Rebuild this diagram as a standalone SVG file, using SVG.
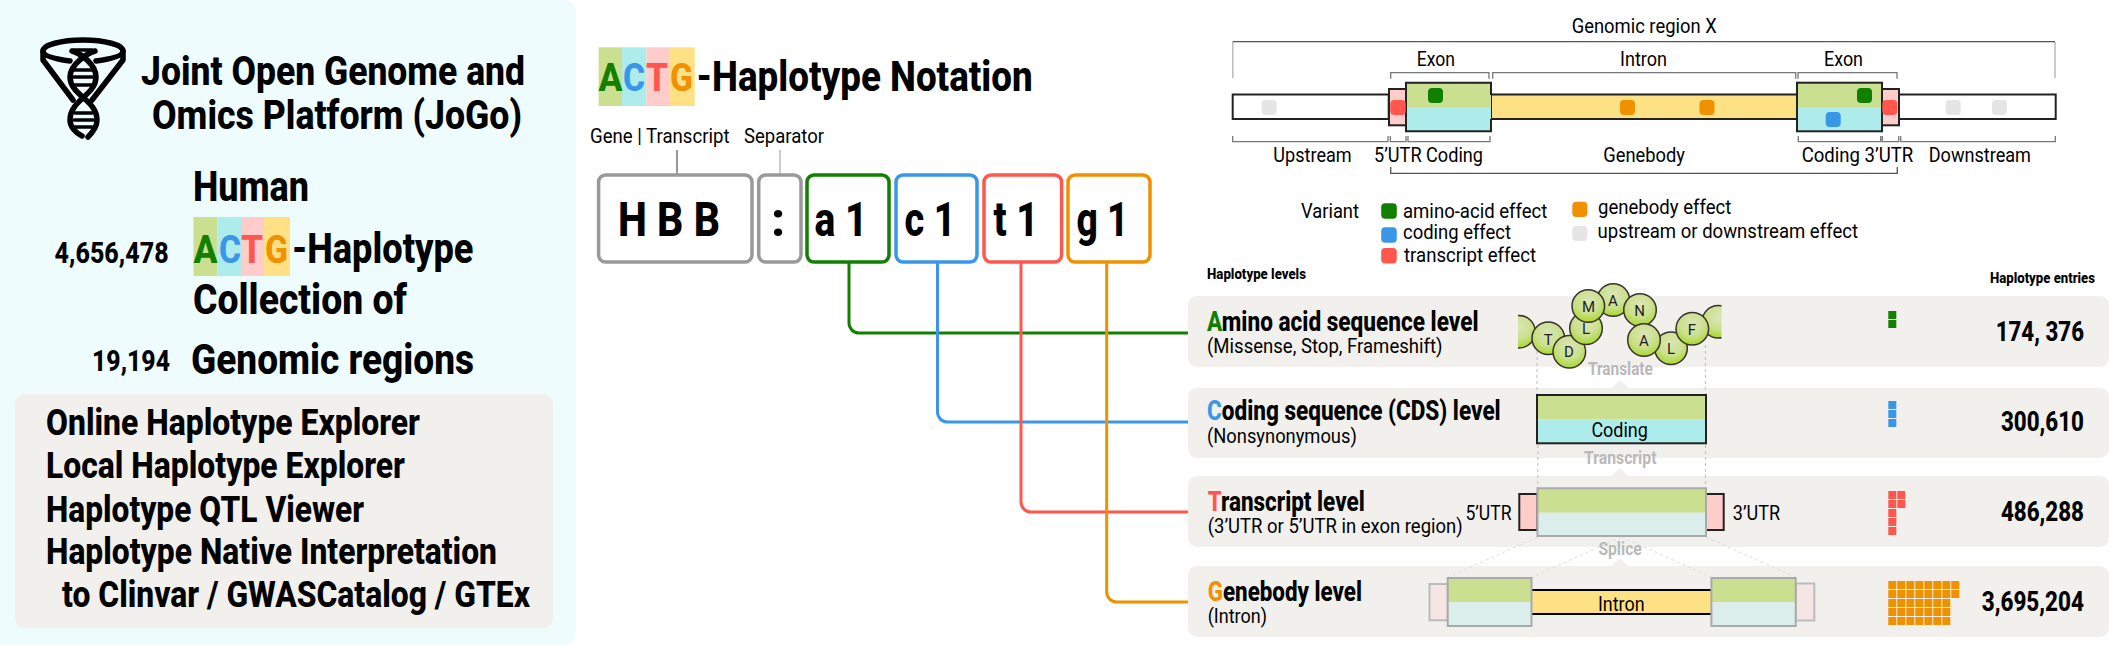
<svg xmlns="http://www.w3.org/2000/svg" width="2109" height="646" viewBox="0 0 2109 646">
<style>
text{font-family:Roboto,"Liberation Sans",sans-serif;fill:#000;font-weight:400}
.b{font-weight:800}
.t38{font-size:40px}.t40{font-size:42px}.t39{font-size:39px}.t34{font-size:37px}.t29{font-size:29px}
.t20{font-size:20.500px}.t21{font-size:21px}.t19{font-size:19.500px}.t27{font-size:27px}.t14{font-size:14.500px}.t46{font-size:49px}
.g18{font-size:19px;font-weight:700;fill:#b9b9b9}
.pl{font-size:15px;fill:#222;text-anchor:middle}
.A{fill:#118000}.C{fill:#3a97e8}.T{fill:#ff574d}.G{fill:#ef9100}.W{fill:#e5e5e5}
.bA{fill:#cbdf90}.bC{fill:#aeecec}.bT{fill:#ffcccc}.bG{fill:#fee185}.bF{fill:#dceeeb}
.row{fill:#f1f0ec}
.ln{fill:none;stroke-width:3}
.tok{fill:#fff;stroke-width:3.5}
.br{fill:none;stroke:#777;stroke-width:1.3}
.dash{fill:none;stroke:#bdbdbd;stroke-width:1;stroke-dasharray:3 3}
.dash2{fill:none;stroke:#dcdcdc;stroke-width:1;stroke-dasharray:3 3}
.k{fill:none;stroke:#222;stroke-width:2}
.f{fill:none;stroke:#aaa;stroke-width:2}
.aa{fill:url(#aag);stroke:#3a3030;stroke-width:1.5}
.logo{fill:none;stroke:#000;stroke-width:5.500;stroke-linecap:round;stroke-linejoin:round}
</style>
<defs>
<radialGradient id="aag" cx="0.5" cy="0.35" r="0.68"><stop offset="0" stop-color="#dbe6b8"/><stop offset="0.55" stop-color="#cbe08e"/><stop offset="1" stop-color="#a3d820"/></radialGradient>
<clipPath id="pep"><rect x="1518" y="270" width="203.500" height="110"/></clipPath>
</defs>

<g id="panel">
<rect x="-12" y="0" width="588" height="645" rx="12" fill="#effcfe"/>
<g id="logo" class="logo">
<path d="M70,61C55,59 43,56 43,51C43,45 61,40 83,40C105,40 123,45 123,51C123,56 111,59 96,61"/>
<path d="M43,51V60L73,100M123,51V60L92,100"/>
<path d="M72,51C80,53 96,64 96,77C96,95 70,100 70,120C70,127 76,133 82,136"/>
<path d="M95,51C88,53 70,64 70,77C70,95 97,100 97,120C97,127 92,133 88,137"/>
<path d="M74,50H92M74,70H92M73,77H93M74,85H92M75,113H92M74,120H93M75,127H92" stroke-width="3.5"/>
</g>
<text class="b t38" x="141" y="85" textLength="384" lengthAdjust="spacingAndGlyphs">Joint Open Genome and</text>
<text class="b t38" x="152" y="129" textLength="370" lengthAdjust="spacingAndGlyphs">Omics Platform (JoGo)</text>
<text class="b t40" x="193" y="201" textLength="116" lengthAdjust="spacingAndGlyphs">Human</text>
<rect class="bA" x="193.500" y="217" width="24" height="59"/><rect class="bC" x="217.500" y="217" width="23.500" height="59"/><rect class="bT" x="241" y="217" width="23" height="59"/><rect class="bG" x="264" y="217" width="26" height="59"/>
<text class="b t39 A" x="193.500" y="263" textLength="24" lengthAdjust="spacingAndGlyphs">A</text>
<text class="b t39 C" x="219" y="263" textLength="22" lengthAdjust="spacingAndGlyphs">C</text>
<text class="b t39 T" x="241" y="263" textLength="22" lengthAdjust="spacingAndGlyphs">T</text>
<text class="b t39 G" x="265" y="263" textLength="23" lengthAdjust="spacingAndGlyphs">G</text>
<text class="b t40" x="292" y="263" textLength="181.500" lengthAdjust="spacingAndGlyphs">-Haplotype</text>
<text class="b t40" x="193" y="314" textLength="214" lengthAdjust="spacingAndGlyphs">Collection of</text>
<text class="b t40" x="191" y="374" textLength="283" lengthAdjust="spacingAndGlyphs">Genomic regions</text>
<text class="b t29" x="54.600" y="263" textLength="114" lengthAdjust="spacingAndGlyphs">4,656,478</text>
<text class="b t29" x="92" y="371" textLength="78" lengthAdjust="spacingAndGlyphs">19,194</text>
<rect class="row" x="15" y="394" width="538" height="234" rx="9"/>
<text class="b t34" x="46" y="435" textLength="374" lengthAdjust="spacingAndGlyphs">Online Haplotype Explorer</text>
<text class="b t34" x="46" y="478" textLength="359" lengthAdjust="spacingAndGlyphs">Local Haplotype Explorer</text>
<text class="b t34" x="46" y="522" textLength="318" lengthAdjust="spacingAndGlyphs">Haplotype QTL Viewer</text>
<text class="b t34" x="46" y="564" textLength="451" lengthAdjust="spacingAndGlyphs">Haplotype Native Interpretation</text>
<text class="b t34" x="62" y="607" textLength="468" lengthAdjust="spacingAndGlyphs">to Clinvar / GWASCatalog / GTEx</text>
</g>

<g id="notation-title">
<rect class="bA" x="598.600" y="47.300" width="23.400" height="58.700"/><rect class="bC" x="622" y="47.300" width="24.400" height="58.700"/><rect class="bT" x="646.400" y="47.300" width="22.600" height="58.700"/><rect class="bG" x="669" y="47.300" width="25.700" height="58.700"/>
<text class="b t39 A" x="598.600" y="90.700" textLength="24" lengthAdjust="spacingAndGlyphs">A</text>
<text class="b t39 C" x="623" y="90.700" textLength="22" lengthAdjust="spacingAndGlyphs">C</text>
<text class="b t39 T" x="646" y="90.700" textLength="22" lengthAdjust="spacingAndGlyphs">T</text>
<text class="b t39 G" x="670" y="90.700" textLength="23" lengthAdjust="spacingAndGlyphs">G</text>
<text class="b t40" x="696.600" y="90.700" textLength="336" lengthAdjust="spacingAndGlyphs">-Haplotype Notation</text>
<text class="t20" x="590" y="143" textLength="139.500" lengthAdjust="spacingAndGlyphs">Gene | Transcript</text>
<text class="t20" x="744" y="143" textLength="80" lengthAdjust="spacingAndGlyphs">Separator</text>
</g>

<g id="connectors">
<path class="ln" stroke="#777" style="stroke-width:1.500" d="M677,150V175"/>
<path class="ln" stroke="#bbb" style="stroke-width:1.500" d="M780,150V175"/>
<path class="ln" stroke="#118000" d="M849,262V323a10,10 0 0 0 10,10H1188"/>
<path class="ln" stroke="#3a97e8" d="M937.500,262V412a10,10 0 0 0 10,10H1188"/>
<path class="ln" stroke="#ff574d" d="M1021,262V502a10,10 0 0 0 10,10H1188"/>
<path class="ln" stroke="#ef9100" d="M1106.700,262V592a10,10 0 0 0 10,10H1188"/>
</g>

<g id="token-gene"><rect class="tok" stroke="#999" x="598.600" y="175" width="153.400" height="87" rx="7"/><text class="b t46" x="618" y="235.700" textLength="102" lengthAdjust="spacingAndGlyphs">H B B</text></g>
<g id="token-sep"><rect class="tok" stroke="#999" x="758.700" y="175" width="42.300" height="87" rx="7"/><text class="b t46" x="771" y="235.700">:</text></g>
<g id="token-a"><rect class="tok" stroke="#118000" x="807" y="175" width="82" height="87" rx="7"/><text class="b t46" x="814.500" y="235.700" textLength="53" lengthAdjust="spacingAndGlyphs">a 1</text></g>
<g id="token-c"><rect class="tok" stroke="#3a97e8" x="896" y="175" width="81" height="87" rx="7"/><text class="b t46" x="904.500" y="235.700" textLength="51" lengthAdjust="spacingAndGlyphs">c 1</text></g>
<g id="token-t"><rect class="tok" stroke="#ff574d" x="984" y="175" width="77.600" height="87" rx="7"/><text class="b t46" x="993.500" y="235.700" textLength="45" lengthAdjust="spacingAndGlyphs">t 1</text></g>
<g id="token-g"><rect class="tok" stroke="#ef9100" x="1068" y="175" width="82" height="87" rx="7"/><text class="b t46" x="1076.500" y="235.700" textLength="52" lengthAdjust="spacingAndGlyphs">g 1</text></g>

<g id="genomic-region">
<text class="t20" x="1571.700" y="32.700" textLength="145" lengthAdjust="spacingAndGlyphs">Genomic region X</text>
<path fill="none" stroke="#bbb" stroke-width="1.500" d="M1232.700,78V42M2055,78V42"/>
<path fill="none" stroke="#555" stroke-width="1.300" d="M1232.700,41.700H2055"/>
<path class="br" d="M1390.700,78.700V72.700H1489V78.700M1492.700,78.700V72.700H1795.700V78.700M1798,78.700V72.700H1897V78.700"/>
<text class="t20" x="1416.700" y="65.700" textLength="38.300" lengthAdjust="spacingAndGlyphs">Exon</text>
<text class="t20" x="1620" y="65.700" textLength="47" lengthAdjust="spacingAndGlyphs">Intron</text>
<text class="t20" x="1824" y="65.700" textLength="39" lengthAdjust="spacingAndGlyphs">Exon</text>
<rect x="1232.700" y="94.500" width="156" height="24.500" fill="#fff"/><rect class="k" x="1232.700" y="94.500" width="156" height="24.500"/>
<rect class="bT" x="1389" y="89" width="18" height="36.300"/><rect class="k" x="1389" y="89" width="18" height="36.300"/>
<rect class="bG" x="1491" y="94.500" width="306" height="24.500"/><rect class="k" x="1491" y="94.500" width="306" height="24.500"/>
<rect class="bA" x="1406" y="82.700" width="85" height="24.300"/><rect class="bC" x="1406" y="107" width="85" height="24.300"/><path d="M1491,95V82.700H1406V131.300H1491V119" fill="none" stroke="#222" stroke-width="2"/>
<rect x="1899" y="94.500" width="156.700" height="24.500" fill="#fff"/><rect class="k" x="1899" y="94.500" width="156.700" height="24.500"/>
<rect class="bT" x="1882" y="89" width="17" height="36.300"/><rect class="k" x="1882" y="89" width="17" height="36.300"/>
<rect class="bA" x="1797" y="82.700" width="85" height="24.300"/><rect class="bC" x="1797" y="107" width="85" height="24.300"/><rect class="k" x="1797" y="82.700" width="85" height="48.600"/>
<rect class="W" x="1261.700" y="100" width="15" height="15" rx="4"/>
<rect class="T" x="1390.300" y="100" width="15.400" height="15" rx="4"/>
<rect class="A" x="1428" y="88" width="15" height="15" rx="4"/>
<rect class="G" x="1620" y="100" width="15" height="15" rx="4"/>
<rect class="G" x="1699.500" y="100" width="15" height="15" rx="4"/>
<rect class="A" x="1857" y="88" width="15" height="15" rx="4"/>
<rect class="C" x="1825.700" y="112" width="15" height="15" rx="4"/>
<rect class="T" x="1882.300" y="100" width="15" height="15" rx="4"/>
<rect class="W" x="1945.700" y="100" width="15" height="15" rx="4"/>
<rect class="W" x="1992" y="100" width="15" height="15" rx="4"/>
<path class="br" d="M1232.700,136V141.700H1388V136M1390.300,136V141.700H1406V136M1408,136V141.700H1490V136M1798.300,136V141.700H1880.700V136M1882.300,136V141.700H1898.700V136M1900.700,136V141.700H2055.300V136"/>
<path class="br" style="stroke:#555" d="M1390.700,167V173.300H1897.300V167"/>
<text class="t20" x="1273.300" y="161.700" textLength="78.400" lengthAdjust="spacingAndGlyphs">Upstream</text>
<text class="t20" x="1374" y="161.700" textLength="109" lengthAdjust="spacingAndGlyphs">5’UTR Coding</text>
<text class="t20" x="1603.300" y="161.700" textLength="81.700" lengthAdjust="spacingAndGlyphs">Genebody</text>
<text class="t20" x="1801.700" y="161.700" textLength="111.600" lengthAdjust="spacingAndGlyphs">Coding 3’UTR</text>
<text class="t20" x="1928.700" y="161.700" textLength="102.300" lengthAdjust="spacingAndGlyphs">Downstream</text>
</g>

<g id="legend">
<text class="t20" x="1301" y="217.700" textLength="58" lengthAdjust="spacingAndGlyphs">Variant</text>
<rect class="A" x="1381.200" y="203.300" width="15.600" height="15.400" rx="4"/>
<rect class="C" x="1381.200" y="227.300" width="15.600" height="15.400" rx="4"/>
<rect class="T" x="1381.200" y="248" width="15.600" height="15.400" rx="4"/>
<rect class="G" x="1572.300" y="201.700" width="15.100" height="15.400" rx="4"/>
<rect class="W" x="1572.300" y="225.700" width="15.100" height="15.400" rx="4"/>
<text class="t20" x="1403" y="217.700" textLength="144.400" lengthAdjust="spacingAndGlyphs">amino-acid effect</text>
<text class="t20" x="1403" y="239.300" textLength="108" lengthAdjust="spacingAndGlyphs">coding effect</text>
<text class="t20" x="1404" y="262" textLength="132" lengthAdjust="spacingAndGlyphs">transcript effect</text>
<text class="t20" x="1598" y="213.500" textLength="133.400" lengthAdjust="spacingAndGlyphs">genebody effect</text>
<text class="t20" x="1597.500" y="238" textLength="260.500" lengthAdjust="spacingAndGlyphs">upstream or downstream effect</text>
</g>

<g id="headers">
<text class="b t14" x="1207" y="279" textLength="99" lengthAdjust="spacingAndGlyphs">Haplotype levels</text>
<text class="b t14" x="1990" y="283" textLength="105" lengthAdjust="spacingAndGlyphs">Haplotype entries</text>
</g>

<g id="level-aa">
<rect class="row" x="1188" y="296" width="921" height="71" rx="9"/>
<text class="b t27" x="1207" y="330.700" textLength="271.600" lengthAdjust="spacingAndGlyphs"><tspan class="A">A</tspan>mino acid sequence level</text>
<text class="t21" x="1207" y="353" textLength="235.500" lengthAdjust="spacingAndGlyphs">(Missense, Stop, Frameshift)</text>
<text class="b t27" x="1995.700" y="341" textLength="88.300" lengthAdjust="spacingAndGlyphs">174, 376</text>
<rect class="A" x="1888.300" y="311" width="8" height="8"/><rect class="A" x="1888.300" y="320" width="8" height="8"/>
</g>
<g id="level-cds">
<rect class="row" x="1188" y="388" width="921" height="70" rx="9"/>
<path class="row" d="M1620.400,380L1611.400,388H1628.600Z"/>
<text class="b t27" x="1207" y="420" textLength="293.700" lengthAdjust="spacingAndGlyphs"><tspan class="C">C</tspan>oding sequence (CDS) level</text>
<text class="t21" x="1207" y="443" textLength="149.800" lengthAdjust="spacingAndGlyphs">(Nonsynonymous)</text>
<text class="b t27" x="2001" y="431" textLength="83" lengthAdjust="spacingAndGlyphs">300,610</text>
<rect class="C" x="1888.300" y="401" width="8" height="8"/><rect class="C" x="1888.300" y="410" width="8" height="8"/><rect class="C" x="1888.300" y="419" width="8" height="8"/>
</g>
<g id="level-transcript">
<rect class="row" x="1188" y="476" width="921" height="71" rx="9"/>
<path class="row" d="M1619.700,468L1611.500,476H1628Z"/>
<text class="b t27" x="1207.700" y="511" textLength="157" lengthAdjust="spacingAndGlyphs"><tspan class="T">T</tspan>ranscript level</text>
<text class="t19" x="1207.700" y="533" textLength="255" lengthAdjust="spacingAndGlyphs">(3’UTR or 5’UTR in exon region)</text>
<text class="b t27" x="2001" y="520.700" textLength="83" lengthAdjust="spacingAndGlyphs">486,288</text>
<rect class="T" x="1888.300" y="491" width="8" height="8"/><rect class="T" x="1897.300" y="491" width="8" height="8"/><rect class="T" x="1888.300" y="500" width="8" height="8"/><rect class="T" x="1897.300" y="500" width="8" height="8"/><rect class="T" x="1888.300" y="509" width="8" height="8"/><rect class="T" x="1888.300" y="518" width="8" height="8"/><rect class="T" x="1888.300" y="527" width="8" height="8"/>
</g>
<g id="level-genebody">
<rect class="row" x="1188" y="566" width="921" height="71" rx="9"/>
<path class="row" d="M1619.700,558L1611.500,566H1628Z"/>
<text class="b t27" x="1207.700" y="600.500" textLength="154.300" lengthAdjust="spacingAndGlyphs"><tspan class="G">G</tspan>enebody level</text>
<text class="t21" x="1207.700" y="623" textLength="59.300" lengthAdjust="spacingAndGlyphs">(Intron)</text>
<text class="b t27" x="1981.700" y="610.700" textLength="102.300" lengthAdjust="spacingAndGlyphs">3,695,204</text>
<g class="G">
<rect x="1888.300" y="581" width="8" height="8"/><rect x="1897.300" y="581" width="8" height="8"/><rect x="1906.300" y="581" width="8" height="8"/><rect x="1915.300" y="581" width="8" height="8"/><rect x="1924.300" y="581" width="8" height="8"/><rect x="1933.300" y="581" width="8" height="8"/><rect x="1942.300" y="581" width="8" height="8"/><rect x="1951.300" y="581" width="8" height="8"/>
<rect x="1888.300" y="590" width="8" height="8"/><rect x="1897.300" y="590" width="8" height="8"/><rect x="1906.300" y="590" width="8" height="8"/><rect x="1915.300" y="590" width="8" height="8"/><rect x="1924.300" y="590" width="8" height="8"/><rect x="1933.300" y="590" width="8" height="8"/><rect x="1942.300" y="590" width="8" height="8"/><rect x="1951.300" y="590" width="8" height="8"/>
<rect x="1888.300" y="599" width="8" height="8"/><rect x="1897.300" y="599" width="8" height="8"/><rect x="1906.300" y="599" width="8" height="8"/><rect x="1915.300" y="599" width="8" height="8"/><rect x="1924.300" y="599" width="8" height="8"/><rect x="1933.300" y="599" width="8" height="8"/><rect x="1942.300" y="599" width="8" height="8"/>
<rect x="1888.300" y="608" width="8" height="8"/><rect x="1897.300" y="608" width="8" height="8"/><rect x="1906.300" y="608" width="8" height="8"/><rect x="1915.300" y="608" width="8" height="8"/><rect x="1924.300" y="608" width="8" height="8"/><rect x="1933.300" y="608" width="8" height="8"/><rect x="1942.300" y="608" width="8" height="8"/>
<rect x="1888.300" y="617" width="8" height="8"/><rect x="1897.300" y="617" width="8" height="8"/><rect x="1906.300" y="617" width="8" height="8"/><rect x="1915.300" y="617" width="8" height="8"/><rect x="1924.300" y="617" width="8" height="8"/><rect x="1933.300" y="617" width="8" height="8"/><rect x="1942.300" y="617" width="8" height="8"/>
</g>
</g>

<g id="guides">
<path class="dash" d="M1537,345V395M1705.400,345V395M1537.800,445V488M1705.500,445V488"/>
<path class="dash2" d="M1537.800,537L1448,577.300M1621,537L1532,577.300M1622,537L1711,577.300M1706,537L1795.700,577.300"/>
<text class="g18" x="1587.900" y="375" textLength="65" lengthAdjust="spacingAndGlyphs">Translate</text>
<text class="g18" x="1584" y="464.300" textLength="72.500" lengthAdjust="spacingAndGlyphs">Transcript</text>
<text class="g18" x="1598.400" y="555" textLength="43.400" lengthAdjust="spacingAndGlyphs">Splice</text>
</g>

<g id="peptide">
<g clip-path="url(#pep)">
<circle class="aa" cx="1519" cy="331.700" r="16.300"/>
<circle class="aa" cx="1718.300" cy="321.700" r="16.300"/>
<circle class="aa" cx="1548.300" cy="338.300" r="16.300"/>
<circle class="aa" cx="1569.300" cy="351.700" r="16.300"/>
<circle class="aa" cx="1586" cy="328.300" r="16.300"/>
<circle class="aa" cx="1613.300" cy="300" r="16.300"/>
<circle class="aa" cx="1588.300" cy="306" r="16.300"/>
<circle class="aa" cx="1640" cy="310" r="16.300"/>
<circle class="aa" cx="1671" cy="348.300" r="16.300"/>
<circle class="aa" cx="1644" cy="340" r="16.300"/>
<circle class="aa" cx="1692.300" cy="328.700" r="16.300"/>
</g>
<text class="pl" x="1548.300" y="345">T</text><text class="pl" x="1569" y="357">D</text><text class="pl" x="1586" y="334">L</text><text class="pl" x="1588.500" y="312">M</text><text class="pl" x="1613" y="306">A</text><text class="pl" x="1639.500" y="316">N</text><text class="pl" x="1644" y="346">A</text><text class="pl" x="1671" y="354">L</text><text class="pl" x="1692" y="335">F</text>
</g>

<g id="cds-block">
<rect class="bA" x="1537" y="395" width="169" height="24.300"/><rect class="bC" x="1537" y="419.300" width="169" height="24"/><rect class="k" x="1537" y="395" width="169" height="48.300"/>
<text class="t21" x="1591.400" y="437.300" textLength="56.500" lengthAdjust="spacingAndGlyphs">Coding</text>
</g>
<g id="transcript-block">
<rect class="bT" x="1519.300" y="494" width="18.200" height="36"/><rect class="k" x="1519.300" y="494" width="18.200" height="36"/>
<rect class="bT" x="1706" y="494" width="17.700" height="36"/><rect class="k" x="1706" y="494" width="17.700" height="36"/>
<rect class="bA" x="1537.500" y="488.300" width="168.500" height="24.400"/><rect class="bF" x="1537.500" y="512.700" width="168.500" height="23.300"/><rect class="f" x="1537.500" y="488.300" width="168.500" height="47.700"/>
<text class="t21" x="1465.500" y="520.300" textLength="46" lengthAdjust="spacingAndGlyphs">5’UTR</text>
<text class="t21" x="1732.800" y="520.300" textLength="47.200" lengthAdjust="spacingAndGlyphs">3’UTR</text>
</g>
<g id="genebody-block">
<rect x="1429.500" y="584" width="18.200" height="36.300" fill="#f5e6e4" stroke="#bbb" stroke-width="2"/>
<rect x="1795.700" y="583.500" width="18.600" height="37" fill="#f5e6e4" stroke="#bbb" stroke-width="2"/>
<rect class="bG" x="1531.500" y="590" width="179.900" height="24"/><path d="M1531.500,590H1711.400M1531.500,614H1711.400" fill="none" stroke="#000" stroke-width="2"/>
<rect class="bA" x="1447.700" y="578" width="83.800" height="24.300"/><rect class="bF" x="1447.700" y="602.300" width="83.800" height="23.700"/><rect class="f" x="1447.700" y="578" width="83.800" height="48"/>
<rect class="bA" x="1711.400" y="578" width="84.300" height="24.300"/><rect class="bF" x="1711.400" y="602.300" width="84.300" height="23.700"/><rect class="f" x="1711.400" y="578" width="84.300" height="48"/>
<text class="t21" x="1598" y="610.700" textLength="46.600" lengthAdjust="spacingAndGlyphs">Intron</text>
</g>
</svg>
